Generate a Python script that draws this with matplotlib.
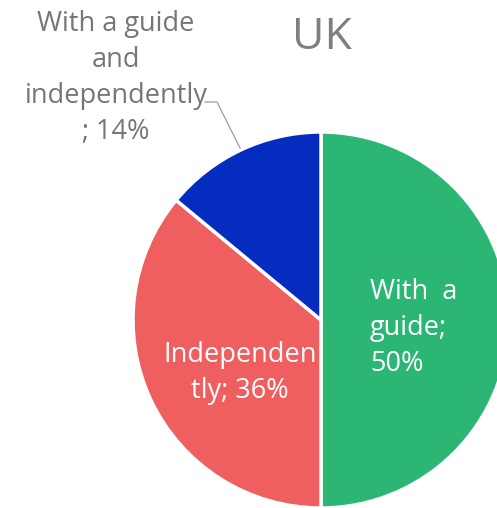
import matplotlib.pyplot as plt

labels = ["With  a\nguide;\n50%", "Independen\ntly; 36%", "With a guide\nand\nindependently\n; 14%"]
values = [50, 36, 14]
colors = ["#2bb673", "#f05f5f", "#042dc0"]

W, H = 497, 508
fig = plt.figure(figsize=(W / 100, H / 100), dpi=100)
ax = fig.add_axes([0, 0, 1, 1])

cx, cy, r = 321, H - 320, 188
wedges, _ = ax.pie(values, colors=colors, startangle=90, counterclock=False,
                   center=(cx, cy), radius=r, frame=True,
                   wedgeprops=dict(edgecolor="white", linewidth=2.5))
ax.set_xlim(0, W)
ax.set_ylim(0, H)
ax.axis("off")

font = "Open Sans"
ax.text(322, H - 38, "UK", ha="center", va="center", fontsize=32, color="#7f7f7f", family=font)

# inside labels
ax.text(370, H - 328, labels[0], ha="left", va="center", fontsize=19.5, color="white",
        family=font, linespacing=1.38)
ax.text(240, H - 373, labels[1], ha="center", va="center", fontsize=19.5, color="white",
        family=font, linespacing=1.38)

# outside label with leader line
ax.text(116, H - 78, labels[2], ha="center", va="center", fontsize=19.5, color="#767676",
        family=font, linespacing=1.38)
ax.plot([205, 217, 240], [H - 102, H - 102, H - 148], color="#a6a6a6", linewidth=1)

fig.savefig("out.png", dpi=100)
